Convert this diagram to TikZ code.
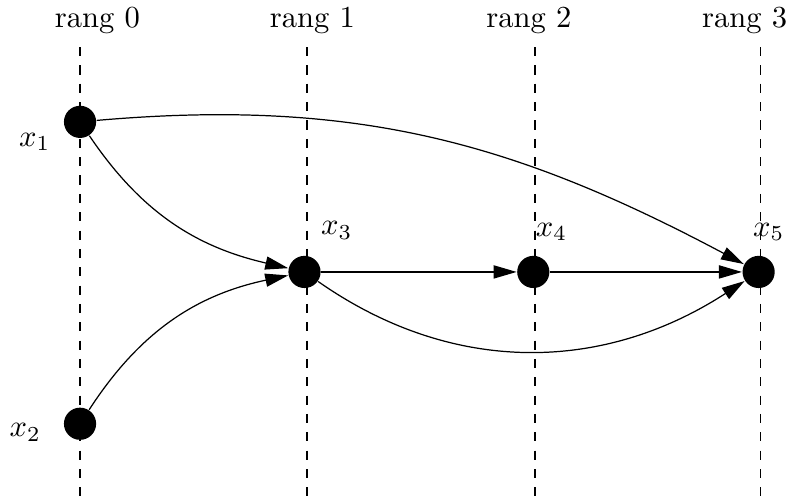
\documentclass[tikz,border=0pt]{standalone}
\usepackage{amsmath,amssymb}
\usetikzlibrary{arrows.meta}

\begin{document}
\begin{tikzpicture}[>={Triangle[length=7.5pt,width=4.3pt]}, thin,
    sommet/.style={circle, fill=black, inner sep=0pt, minimum size=0.37cm}]
    \useasboundingbox (0, 0) rectangle (9.092, 5.701);

    % 虚线和 rang 标注
    \foreach \i/\x/\t in {0/0.92/1.12, 1/3.53/3.59, 2/6.15/6.08, 3/8.74/8.56} {
        \node (r\i) at (\t, 5.47) {rang \i};
        \draw[dashed] (\x, 5.16) -- (\x, 0);
    }

    % 顶点
    \node[sommet, label={[shift={(-0.52,-0.23)}]center:$x_1$}] (x1) at (0.92, 4.30) {};
    \node[sommet, label={[shift={(-0.63,-0.10)}]center:$x_2$}] (x2) at (0.92, 0.83) {};
    \node[sommet, label={[shift={(0.37,0.48)}]center:$x_3$}] (x3) at (3.50, 2.575) {};
    \node[sommet, label={[shift={(0.21,0.46)}]center:$x_4$}] (x4) at (6.13, 2.575) {};
    \node[sommet, label={[shift={(0.115,0.46)}]center:$x_5$}] (x5) at (8.72, 2.575) {};

    % 箭头
    \draw[->] (x1) to[out=5, in=152] (x5);
    \draw[->] (x1) to[out=-56, in=167] (x3);
    \draw[->] (x2) to[out=57, in=192] (x3);
    \draw[->] (x3) -- (x4);
    \draw[->] (x4) -- (x5);
    \draw[->] (x3) to[out=-35, in=213] (x5);
\end{tikzpicture}
\end{document}
